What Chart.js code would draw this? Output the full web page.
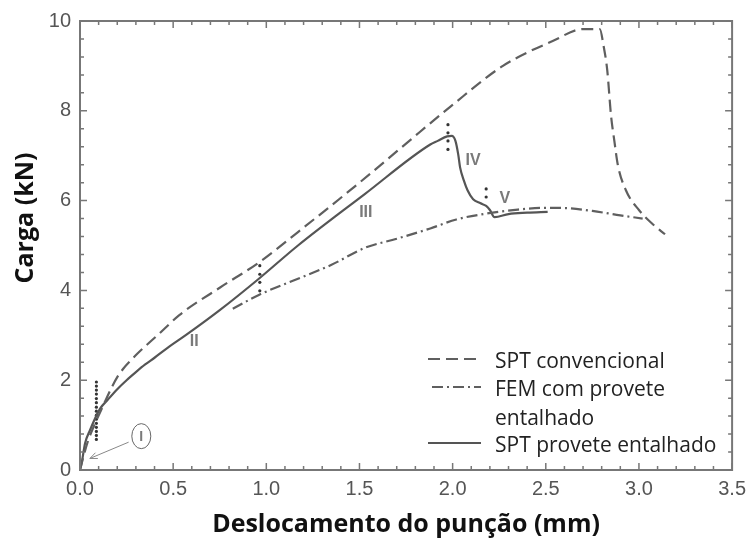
<!DOCTYPE html>
<html>
<head>
<meta charset="utf-8">
<script src="https://cdn.jsdelivr.net/npm/chart.js@4.4.0/dist/chart.umd.min.js"></script>
<style>
  html, body { margin: 0; padding: 0; background: #fff; }
  canvas { display: block; }
</style>
</head>
<body>
<canvas id="myChart" width="753" height="543"></canvas>
<script>
// punch displacement (mm) / load (kN)
var convX = [0, 0.018, 0.044, 0.08, 0.124, 0.169, 0.2, 0.231, 0.27, 0.31, 0.426, 0.533, 0.75, 0.96, 1.17, 1.5, 1.75, 1.99, 2.27, 2.54, 2.70, 2.79, 2.81, 2.83, 2.85, 2.868, 2.886, 2.93, 3.0, 3.07, 3.14];
var convY = [0, 0.29, 0.66, 1.03, 1.43, 1.83, 2.07, 2.25, 2.43, 2.6, 3.04, 3.45, 4.06, 4.62, 5.3, 6.4, 7.27, 8.1, 9.0, 9.56, 9.82, 9.82, 9.45, 8.9, 7.9, 7.33, 6.81, 6.23, 5.79, 5.49, 5.25];

var femX = [0.82, 0.96, 1.17, 1.35, 1.53, 1.7, 1.88, 2.02, 2.18, 2.35, 2.5, 2.62, 2.75, 2.9, 3.02];
var femY = [3.59, 3.9, 4.26, 4.57, 4.95, 5.15, 5.38, 5.58, 5.71, 5.8, 5.84, 5.83, 5.77, 5.67, 5.6];

var notchX = [0, 0.01, 0.027, 0.053, 0.107, 0.15, 0.2, 0.25, 0.3, 0.35, 0.4, 0.47, 0.577, 0.75, 0.96, 1.17, 1.53, 1.88, 1.92, 1.97, 1.995, 2.015, 2.03, 2.04, 2.06, 2.08, 2.11, 2.15, 2.18, 2.2, 2.225, 2.3, 2.4, 2.51];
var notchY = [0, 0.18, 0.59, 0.88, 1.36, 1.57, 1.8, 2.0, 2.18, 2.35, 2.5, 2.72, 3.03, 3.56, 4.26, 5.0, 6.15, 7.25, 7.33, 7.43, 7.44, 7.33, 7.03, 6.74, 6.45, 6.23, 6.03, 5.94, 5.88, 5.79, 5.63, 5.7, 5.73, 5.75];

var seriesNames = ['SPT convencional', 'FEM com provete\nentalhado', 'SPT provete entalhado'];

// dotted stage boundaries
var markX = [0.088, 0.965, 1.975, 2.18];
var markY = [
  [0.68, 0.77, 0.86, 0.95, 1.04, 1.13, 1.22, 1.31, 1.40, 1.50, 1.59, 1.69, 1.78, 1.87, 1.96],
  [3.99, 4.18, 4.36, 4.55],
  [7.14, 7.33, 7.51, 7.69],
  [6.08, 6.26]
];

// stage numerals
var stageText = ['II', 'III', 'IV', 'V'];
var stageX = [0.613, 1.534, 2.11, 2.28];
var stageY = [2.86, 5.74, 6.88, 6.04];

var xTicks = [0, 0.5, 1, 1.5, 2, 2.5, 3, 3.5];
var yTicks = [0, 2, 4, 6, 8, 10];

function pts(xs, ys) {
  return xs.map(function (x, i) { return { x: x, y: ys[i] }; });
}

var markPts = [];
markX.forEach(function (x, i) {
  markY[i].forEach(function (y) { markPts.push({ x: x, y: y }); });
});

var lineColor = '#5f5f5f';

var decor = {
  id: 'decor',
  afterDatasetsDraw: function (chart) {
    var ctx = chart.ctx;
    var a = chart.chartArea;
    var xs = chart.scales.x, ys = chart.scales.y;
    ctx.save();

    // box + inward ticks on all four sides
    ctx.strokeStyle = '#777';
    ctx.lineWidth = 2;
    ctx.strokeRect(a.left, a.top, a.right - a.left, a.bottom - a.top);
    ctx.lineWidth = 1.5;
    ctx.beginPath();
    for (var i = 0; i <= 35; i++) {
      var px = xs.getPixelForValue(i / 10);
      var len = (i % 5 === 0) ? 7 : 4;
      ctx.moveTo(px, a.bottom); ctx.lineTo(px, a.bottom - len);
      ctx.moveTo(px, a.top); ctx.lineTo(px, a.top + len);
    }
    for (var j = 0; j <= 25; j++) {
      var py = ys.getPixelForValue(j * 0.4);
      var len2 = (j % 5 === 0) ? 7 : 4;
      ctx.moveTo(a.left, py); ctx.lineTo(a.left + len2, py);
      ctx.moveTo(a.right, py); ctx.lineTo(a.right - len2, py);
    }
    ctx.stroke();

    // stage numerals
    ctx.fillStyle = '#7a7a7a';
    ctx.font = 'bold 16px "Liberation Sans", Arial, sans-serif';
    ctx.textAlign = 'center';
    ctx.textBaseline = 'middle';
    stageText.forEach(function (t, k) {
      ctx.fillText(t, xs.getPixelForValue(stageX[k]), ys.getPixelForValue(stageY[k]));
    });

    // circled "I" with arrow to the origin region
    var cx = xs.getPixelForValue(0.329), cy = ys.getPixelForValue(0.754);
    ctx.strokeStyle = '#666';
    ctx.lineWidth = 1;
    ctx.beginPath();
    ctx.ellipse(cx, cy, 9.5, 12.5, 0, 0, Math.PI * 2);
    ctx.stroke();
    ctx.font = 'bold 14px "Liberation Sans", Arial, sans-serif';
    ctx.fillText('I', cx, cy + 1);
    var ax0 = xs.getPixelForValue(0.261), ay0 = ys.getPixelForValue(0.62);
    var ax1 = xs.getPixelForValue(0.053), ay1 = ys.getPixelForValue(0.257);
    var ang = Math.atan2(ay1 - ay0, ax1 - ax0);
    ctx.strokeStyle = '#888';
    ctx.beginPath();
    ctx.moveTo(ax0, ay0); ctx.lineTo(ax1, ay1);
    ctx.moveTo(ax1 - 8 * Math.cos(ang - 0.4), ay1 - 8 * Math.sin(ang - 0.4));
    ctx.lineTo(ax1, ay1);
    ctx.lineTo(ax1 - 8 * Math.cos(ang + 0.4), ay1 - 8 * Math.sin(ang + 0.4));
    ctx.stroke();

    // legend
    var rowY = [368, 396, 452];
    ctx.font = '21px "Open Sans", sans-serif';
    ctx.textAlign = 'left';
    ctx.textBaseline = 'alphabetic';
    for (var d = 0; d < 3; d++) {
      var ds = chart.data.datasets[d];
      ctx.strokeStyle = ds.borderColor;
      ctx.lineWidth = ds.borderWidth;
      ctx.setLineDash(ds.borderDash || []);
      ctx.beginPath();
      ctx.moveTo(d === 1 ? 432 : 428, rowY[d] - 9);
      ctx.lineTo(481, rowY[d] - 9);
      ctx.stroke();
      ctx.setLineDash([]);
      ctx.fillStyle = '#222';
      seriesNames[d].split('\n').forEach(function (ln, m) {
        ctx.fillText(ln, 495, rowY[d] + m * 29);
      });
    }

    // y axis title
    ctx.save();
    ctx.translate(33, 218);
    ctx.rotate(-Math.PI / 2);
    ctx.font = 'bold 25px "Open Sans", sans-serif';
    ctx.fillStyle = '#111';
    ctx.textAlign = 'center';
    ctx.fillText('Carga (kN)', 0, 0);
    ctx.restore();

    ctx.restore();
  }
};

var tickFont = { family: '"Liberation Sans", Arial, sans-serif', size: 20 };

var ctx = document.getElementById('myChart').getContext('2d');
var myChart = new Chart(ctx, {
  type: 'scatter',
  data: {
    datasets: [{
      label: seriesNames[0],
      data: pts(convX, convY),
      showLine: true,
      borderColor: lineColor,
      borderWidth: 2.2,
      borderDash: [12, 6],
      pointRadius: 0,
      cubicInterpolationMode: 'monotone'
    }, {
      label: seriesNames[1].replace('\n', ' '),
      data: pts(femX, femY),
      showLine: true,
      borderColor: lineColor,
      borderWidth: 2.2,
      borderDash: [11, 4, 2, 4],
      pointRadius: 0,
      cubicInterpolationMode: 'monotone'
    }, {
      label: seriesNames[2],
      data: pts(notchX, notchY),
      showLine: true,
      borderColor: '#555',
      borderWidth: 2.2,
      pointRadius: 0,
      cubicInterpolationMode: 'monotone'
    }, {
      label: 'marcas',
      data: markPts,
      showLine: false,
      pointRadius: 1.6,
      pointBorderWidth: 0,
      pointBackgroundColor: '#333'
    }]
  },
  options: {
    responsive: false,
    animation: false,
    devicePixelRatio: 1,
    layout: { padding: { left: 0, top: 15, right: 17, bottom: 0 } },
    plugins: { legend: { display: false }, tooltip: { enabled: false } },
    scales: {
      x: {
        type: 'linear',
        min: 0,
        max: 3.5,
        afterFit: function (s) { s.height = 73; },
        afterBuildTicks: function (s) { s.ticks = xTicks.map(function (v) { return { value: v }; }); },
        grid: { display: false, drawTicks: false },
        border: { display: false },
        ticks: {
          font: tickFont,
          color: '#555',
          padding: 7,
          maxRotation: 0,
          autoSkip: false,
          callback: function (v) { return Number(v).toFixed(1); }
        },
        title: {
          display: true,
          text: 'Deslocamento do punção (mm)',
          color: '#111',
          font: { family: '"Open Sans", sans-serif', size: 25, weight: 'bold' },
          padding: { top: 0, bottom: 3 }
        }
      },
      y: {
        min: 0,
        max: 10,
        afterFit: function (s) { s.width = 80; },
        afterBuildTicks: function (s) { s.ticks = yTicks.map(function (v) { return { value: v }; }); },
        grid: { display: false, drawTicks: false },
        border: { display: false },
        ticks: {
          font: tickFont,
          color: '#555',
          padding: 9
        }
      }
    }
  },
  plugins: [decor]
});
</script>
</body>
</html>
